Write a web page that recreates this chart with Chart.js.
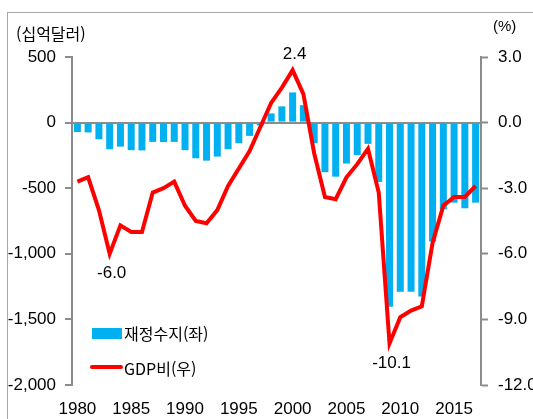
<!DOCTYPE html>
<html lang="ko">
<head>
<meta charset="UTF-8">
<title>재정수지</title>
<script src="https://cdn.jsdelivr.net/npm/chart.js"></script>
<style>
  body { margin: 0; background: #fff; overflow: hidden; }
  .frame { position: absolute; left: 7px; top: 12px; width: 600px; height: 500px; border: 1px solid #a6a6a6; }
  .wrap { position: absolute; left: 0; top: 0; width: 533px; height: 419px; }
</style>
</head>
<body>
<div class="frame"></div>
<div class="wrap"><canvas id="chart" width="533" height="419"></canvas></div>
<script>
  // 연도
  const years = ['1980','1981','1982','1983','1984','1985','1986','1987','1988','1989',
                 '1990','1991','1992','1993','1994','1995','1996','1997','1998','1999',
                 '2000','2001','2002','2003','2004','2005','2006','2007','2008','2009',
                 '2010','2011','2012','2013','2014','2015','2016','2017'];
  // 재정수지 (십억달러, 좌축)
  const balance = [-72, -75, -127, -203, -183, -210, -212, -147, -148, -147,
                   -210, -272, -290, -259, -203, -157, -101, -22, 70, 124,
                   230, 133, -157, -378, -412, -312, -247, -162, -452, -1403,
                   -1290, -1290, -1325, -907, -661, -610, -653, -610];
  // GDP 대비 (%, 우축)
  const gdpRatio = [-2.7, -2.5, -4.0, -6.0, -4.7, -5.0, -5.0, -3.2, -3.0, -2.7,
                    -3.8, -4.5, -4.6, -4.0, -2.9, -2.1, -1.3, -0.2, 0.9, 1.6,
                    2.4, 1.3, -1.4, -3.4, -3.5, -2.5, -1.9, -1.2, -3.2, -10.1,
                    -8.9, -8.6, -8.4, -5.5, -3.8, -3.4, -3.4, -2.9];
  const leftTicks = [500, 0, -500, -1000, -1500, -2000];
  const rightTicks = [3, 0, -3, -6, -9, -12];
  const markedYears = ['1983', '2000', '2009'];

  const numFamily = "'Liberation Sans', Arial, sans-serif";
  const numFont = { family: numFamily, size: 17 };
  const korFont = "16px 'Noto Sans CJK KR', sans-serif";
  const axisGray = '#8c8c8c';

  const extras = {
    id: 'extras',
    afterDraw(chart) {
      const c = chart.ctx;
      c.save();
      // 축 단위
      c.fillStyle = '#000';
      c.font = korFont;
      c.textBaseline = 'middle';
      c.textAlign = 'left';
      c.fillText('(십억달러)', 16, 34);
      c.font = '15px ' + numFamily;
      c.fillText('(%)', 493, 27);

      // 데이터 레이블
      const meta = chart.getDatasetMeta(0);
      c.font = '17px ' + numFamily;
      c.textAlign = 'center';
      markedYears.forEach(y => {
        const i = years.indexOf(y);
        const pt = meta.data[i];
        const v = gdpRatio[i];
        const dy = v > 0 ? -16 : 20;
        c.fillText(v.toFixed(1), pt.x + 2, pt.y + dy);
      });

      // 범례
      c.textAlign = 'left';
      c.font = korFont;
      c.fillStyle = '#00b0f0';
      c.fillRect(92, 328, 30, 11);
      c.fillStyle = '#000';
      c.fillText(chart.data.datasets[1].label, 124, 334);
      c.strokeStyle = '#ff0000';
      c.lineWidth = 4;
      c.lineCap = 'round';
      c.beginPath();
      c.moveTo(92, 367);
      c.lineTo(121, 367);
      c.stroke();
      c.fillText(chart.data.datasets[0].label, 124, 369);
      c.restore();
    }
  };

  new Chart(document.getElementById('chart'), {
    data: {
      labels: years,
      datasets: [
        {
          type: 'line',
          label: 'GDP비(우)',
          data: gdpRatio,
          yAxisID: 'y1',
          borderColor: '#ff0000',
          borderWidth: 4,
          pointRadius: 0,
          tension: 0,
          order: 0
        },
        {
          type: 'bar',
          label: '재정수지(좌)',
          data: balance,
          yAxisID: 'y',
          backgroundColor: '#00b0f0',
          barPercentage: 0.65,
          categoryPercentage: 1,
          order: 1
        }
      ]
    },
    options: {
      responsive: false,
      animation: false,
      layout: { padding: { top: 57, left: 0, right: 0, bottom: 0 } },
      plugins: { legend: { display: false }, tooltip: { enabled: false } },
      scales: {
        x: {
          offset: true,
          grid: { display: false, drawTicks: false },
          border: { display: false },
          ticks: {
            autoSkip: false,
            maxRotation: 0,
            padding: 14,
            color: '#000',
            font: numFont,
            callback(value) {
              const y = this.getLabelForValue(value);
              return Number(y) % 5 === 0 ? y : '';
            }
          },
          afterFit(s) { s.height = 34; }
        },
        y: {
          position: 'left',
          min: -2000,
          max: 500,
          afterBuildTicks(s) { s.ticks = leftTicks.map(v => ({ value: v })); },
          ticks: {
            color: '#000',
            font: numFont,
            padding: 9,
            callback: v => v.toLocaleString('en-US')
          },
          grid: {
            color: c => (c.tick && c.tick.value === 0) ? axisGray : 'rgba(0,0,0,0)',
            lineWidth: 2,
            tickColor: axisGray,
            tickLength: 7,
            tickWidth: 2
          },
          border: { color: axisGray, width: 2 },
          afterFit(s) { s.width = 72; }
        },
        y1: {
          position: 'right',
          min: -12,
          max: 3,
          afterBuildTicks(s) { s.ticks = rightTicks.map(v => ({ value: v })); },
          ticks: {
            color: '#000',
            font: numFont,
            padding: 10,
            callback: v => v.toFixed(1)
          },
          grid: {
            drawOnChartArea: false,
            tickColor: axisGray,
            tickLength: 7,
            tickWidth: 2
          },
          border: { color: axisGray, width: 2 },
          afterFit(s) { s.width = 52; }
        }
      }
    },
    plugins: [extras]
  });
</script>
</body>
</html>
